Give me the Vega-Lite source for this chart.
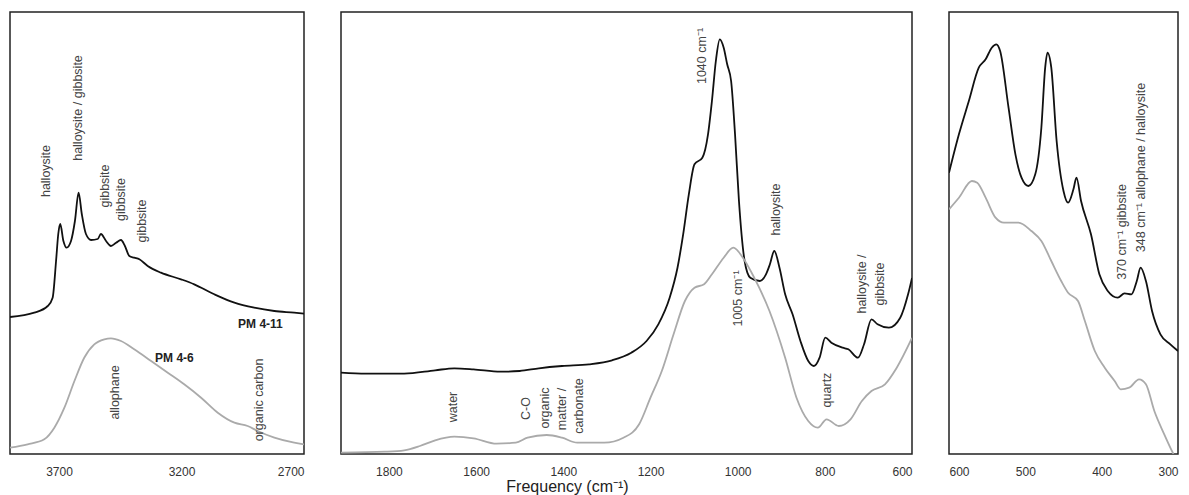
{
  "$schema": "https://vega.github.io/schema/vega-lite/v6.json",
  "padding": {"left": 9, "top": 11, "right": 0, "bottom": 0},
  "background": "white",
  "bounds": "flush",
  "spacing": 37,
  "config": {
    "view": {"stroke": "#222", "strokeWidth": 1.5},
    "font": "Liberation Sans",
    "axis": {"grid": false, "domain": false, "ticks": false, "labelFontSize": 12, "labelColor": "#333", "labelPadding": 12, "labelFont": "Liberation Sans", "format": "d"}
  },
  "datasets": {
    "spec": [
      {"panel": "L", "series": "PM 4-11", "wn": 3900, "v": 137},
      {"panel": "L", "series": "PM 4-11", "wn": 3801, "v": 141.3},
      {"panel": "L", "series": "PM 4-11", "wn": 3746, "v": 148},
      {"panel": "L", "series": "PM 4-11", "wn": 3726, "v": 156.3},
      {"panel": "L", "series": "PM 4-11", "wn": 3712, "v": 193},
      {"panel": "L", "series": "PM 4-11", "wn": 3703, "v": 220},
      {"panel": "L", "series": "PM 4-11", "wn": 3695, "v": 230},
      {"panel": "L", "series": "PM 4-11", "wn": 3682, "v": 213},
      {"panel": "L", "series": "PM 4-11", "wn": 3669, "v": 206.3},
      {"panel": "L", "series": "PM 4-11", "wn": 3651, "v": 213},
      {"panel": "L", "series": "PM 4-11", "wn": 3635, "v": 233},
      {"panel": "L", "series": "PM 4-11", "wn": 3620, "v": 261.3},
      {"panel": "L", "series": "PM 4-11", "wn": 3607, "v": 240},
      {"panel": "L", "series": "PM 4-11", "wn": 3590, "v": 220},
      {"panel": "L", "series": "PM 4-11", "wn": 3569, "v": 214},
      {"panel": "L", "series": "PM 4-11", "wn": 3542, "v": 215},
      {"panel": "L", "series": "PM 4-11", "wn": 3529, "v": 220},
      {"panel": "L", "series": "PM 4-11", "wn": 3508, "v": 213},
      {"panel": "L", "series": "PM 4-11", "wn": 3488, "v": 208},
      {"panel": "L", "series": "PM 4-11", "wn": 3467, "v": 211.3},
      {"panel": "L", "series": "PM 4-11", "wn": 3447, "v": 214},
      {"panel": "L", "series": "PM 4-11", "wn": 3431, "v": 208},
      {"panel": "L", "series": "PM 4-11", "wn": 3413, "v": 198},
      {"panel": "L", "series": "PM 4-11", "wn": 3393, "v": 196.3},
      {"panel": "L", "series": "PM 4-11", "wn": 3372, "v": 194.7},
      {"panel": "L", "series": "PM 4-11", "wn": 3338, "v": 188},
      {"panel": "L", "series": "PM 4-11", "wn": 3284, "v": 181.3},
      {"panel": "L", "series": "PM 4-11", "wn": 3202, "v": 174.7},
      {"panel": "L", "series": "PM 4-11", "wn": 3148, "v": 169.7},
      {"panel": "L", "series": "PM 4-11", "wn": 3066, "v": 159.7},
      {"panel": "L", "series": "PM 4-11", "wn": 2984, "v": 151.3},
      {"panel": "L", "series": "PM 4-11", "wn": 2903, "v": 146.3},
      {"panel": "L", "series": "PM 4-11", "wn": 2821, "v": 143},
      {"panel": "L", "series": "PM 4-11", "wn": 2740, "v": 141.3},
      {"panel": "L", "series": "PM 4-11", "wn": 2700, "v": 140.3},
      {"panel": "L", "series": "PM 4-6", "wn": 3900, "v": 6.3},
      {"panel": "L", "series": "PM 4-6", "wn": 3828, "v": 9.7},
      {"panel": "L", "series": "PM 4-6", "wn": 3760, "v": 14.7},
      {"panel": "L", "series": "PM 4-6", "wn": 3719, "v": 26.3},
      {"panel": "L", "series": "PM 4-6", "wn": 3678, "v": 46.3},
      {"panel": "L", "series": "PM 4-6", "wn": 3637, "v": 73},
      {"panel": "L", "series": "PM 4-6", "wn": 3597, "v": 96.3},
      {"panel": "L", "series": "PM 4-6", "wn": 3556, "v": 109.7},
      {"panel": "L", "series": "PM 4-6", "wn": 3515, "v": 114.7},
      {"panel": "L", "series": "PM 4-6", "wn": 3488, "v": 115.7},
      {"panel": "L", "series": "PM 4-6", "wn": 3447, "v": 113},
      {"panel": "L", "series": "PM 4-6", "wn": 3393, "v": 104.7},
      {"panel": "L", "series": "PM 4-6", "wn": 3324, "v": 93},
      {"panel": "L", "series": "PM 4-6", "wn": 3256, "v": 81.3},
      {"panel": "L", "series": "PM 4-6", "wn": 3189, "v": 69.7},
      {"panel": "L", "series": "PM 4-6", "wn": 3120, "v": 56.3},
      {"panel": "L", "series": "PM 4-6", "wn": 3052, "v": 41.3},
      {"panel": "L", "series": "PM 4-6", "wn": 2984, "v": 31.3},
      {"panel": "L", "series": "PM 4-6", "wn": 2930, "v": 28},
      {"panel": "L", "series": "PM 4-6", "wn": 2889, "v": 23},
      {"panel": "L", "series": "PM 4-6", "wn": 2821, "v": 16.3},
      {"panel": "L", "series": "PM 4-6", "wn": 2740, "v": 11.3},
      {"panel": "L", "series": "PM 4-6", "wn": 2700, "v": 9.7},

      {"panel": "M", "series": "PM 4-11", "wn": 1910, "v": 81.3},
      {"panel": "M", "series": "PM 4-11", "wn": 1853, "v": 80.3},
      {"panel": "M", "series": "PM 4-11", "wn": 1765, "v": 80.3},
      {"panel": "M", "series": "PM 4-11", "wn": 1694, "v": 83.7},
      {"panel": "M", "series": "PM 4-11", "wn": 1650, "v": 85.7},
      {"panel": "M", "series": "PM 4-11", "wn": 1606, "v": 84.7},
      {"panel": "M", "series": "PM 4-11", "wn": 1544, "v": 82.3},
      {"panel": "M", "series": "PM 4-11", "wn": 1500, "v": 83},
      {"panel": "M", "series": "PM 4-11", "wn": 1456, "v": 85.7},
      {"panel": "M", "series": "PM 4-11", "wn": 1403, "v": 88},
      {"panel": "M", "series": "PM 4-11", "wn": 1341, "v": 89.7},
      {"panel": "M", "series": "PM 4-11", "wn": 1288, "v": 93.7},
      {"panel": "M", "series": "PM 4-11", "wn": 1244, "v": 101.3},
      {"panel": "M", "series": "PM 4-11", "wn": 1209, "v": 113},
      {"panel": "M", "series": "PM 4-11", "wn": 1182, "v": 129.7},
      {"panel": "M", "series": "PM 4-11", "wn": 1156, "v": 156.3},
      {"panel": "M", "series": "PM 4-11", "wn": 1138, "v": 186.3},
      {"panel": "M", "series": "PM 4-11", "wn": 1125, "v": 219.7},
      {"panel": "M", "series": "PM 4-11", "wn": 1112, "v": 259.7},
      {"panel": "M", "series": "PM 4-11", "wn": 1099, "v": 289.7},
      {"panel": "M", "series": "PM 4-11", "wn": 1081, "v": 296.3},
      {"panel": "M", "series": "PM 4-11", "wn": 1068, "v": 319.7},
      {"panel": "M", "series": "PM 4-11", "wn": 1059, "v": 353},
      {"panel": "M", "series": "PM 4-11", "wn": 1050, "v": 393},
      {"panel": "M", "series": "PM 4-11", "wn": 1041, "v": 414.7},
      {"panel": "M", "series": "PM 4-11", "wn": 1032, "v": 406.3},
      {"panel": "M", "series": "PM 4-11", "wn": 1024, "v": 389.7},
      {"panel": "M", "series": "PM 4-11", "wn": 1015, "v": 373},
      {"panel": "M", "series": "PM 4-11", "wn": 1006, "v": 319.7},
      {"panel": "M", "series": "PM 4-11", "wn": 997, "v": 253},
      {"panel": "M", "series": "PM 4-11", "wn": 984, "v": 193},
      {"panel": "M", "series": "PM 4-11", "wn": 971, "v": 176.3},
      {"panel": "M", "series": "PM 4-11", "wn": 949, "v": 173},
      {"panel": "M", "series": "PM 4-11", "wn": 935, "v": 179.7},
      {"panel": "M", "series": "PM 4-11", "wn": 926, "v": 189.7},
      {"panel": "M", "series": "PM 4-11", "wn": 916, "v": 203},
      {"panel": "M", "series": "PM 4-11", "wn": 904, "v": 186.3},
      {"panel": "M", "series": "PM 4-11", "wn": 891, "v": 159.7},
      {"panel": "M", "series": "PM 4-11", "wn": 874, "v": 139.7},
      {"panel": "M", "series": "PM 4-11", "wn": 856, "v": 113},
      {"panel": "M", "series": "PM 4-11", "wn": 838, "v": 93},
      {"panel": "M", "series": "PM 4-11", "wn": 825, "v": 88},
      {"panel": "M", "series": "PM 4-11", "wn": 812, "v": 96.3},
      {"panel": "M", "series": "PM 4-11", "wn": 799, "v": 116.3},
      {"panel": "M", "series": "PM 4-11", "wn": 785, "v": 111.3},
      {"panel": "M", "series": "PM 4-11", "wn": 759, "v": 106.3},
      {"panel": "M", "series": "PM 4-11", "wn": 746, "v": 104.7},
      {"panel": "M", "series": "PM 4-11", "wn": 724, "v": 96.3},
      {"panel": "M", "series": "PM 4-11", "wn": 710, "v": 109.7},
      {"panel": "M", "series": "PM 4-11", "wn": 693, "v": 134.7},
      {"panel": "M", "series": "PM 4-11", "wn": 679, "v": 129.7},
      {"panel": "M", "series": "PM 4-11", "wn": 653, "v": 126.3},
      {"panel": "M", "series": "PM 4-11", "wn": 627, "v": 136.3},
      {"panel": "M", "series": "PM 4-11", "wn": 609, "v": 159.7},
      {"panel": "M", "series": "PM 4-11", "wn": 600, "v": 176},
      {"panel": "M", "series": "PM 4-6", "wn": 1910, "v": 1.3},
      {"panel": "M", "series": "PM 4-6", "wn": 1809, "v": 2.3},
      {"panel": "M", "series": "PM 4-6", "wn": 1765, "v": 3.7},
      {"panel": "M", "series": "PM 4-6", "wn": 1729, "v": 8},
      {"panel": "M", "series": "PM 4-6", "wn": 1694, "v": 13.7},
      {"panel": "M", "series": "PM 4-6", "wn": 1650, "v": 17.3},
      {"panel": "M", "series": "PM 4-6", "wn": 1606, "v": 15.7},
      {"panel": "M", "series": "PM 4-6", "wn": 1553, "v": 10.3},
      {"panel": "M", "series": "PM 4-6", "wn": 1509, "v": 11.3},
      {"panel": "M", "series": "PM 4-6", "wn": 1482, "v": 16.3},
      {"panel": "M", "series": "PM 4-6", "wn": 1438, "v": 19},
      {"panel": "M", "series": "PM 4-6", "wn": 1403, "v": 16.3},
      {"panel": "M", "series": "PM 4-6", "wn": 1368, "v": 11.3},
      {"panel": "M", "series": "PM 4-6", "wn": 1306, "v": 11.3},
      {"panel": "M", "series": "PM 4-6", "wn": 1262, "v": 16.3},
      {"panel": "M", "series": "PM 4-6", "wn": 1226, "v": 29.7},
      {"panel": "M", "series": "PM 4-6", "wn": 1200, "v": 56.3},
      {"panel": "M", "series": "PM 4-6", "wn": 1174, "v": 83},
      {"panel": "M", "series": "PM 4-6", "wn": 1147, "v": 119.7},
      {"panel": "M", "series": "PM 4-6", "wn": 1121, "v": 153},
      {"panel": "M", "series": "PM 4-6", "wn": 1099, "v": 166.3},
      {"panel": "M", "series": "PM 4-6", "wn": 1077, "v": 169.7},
      {"panel": "M", "series": "PM 4-6", "wn": 1059, "v": 179.7},
      {"panel": "M", "series": "PM 4-6", "wn": 1032, "v": 196.3},
      {"panel": "M", "series": "PM 4-6", "wn": 1010, "v": 206.3},
      {"panel": "M", "series": "PM 4-6", "wn": 988, "v": 196.3},
      {"panel": "M", "series": "PM 4-6", "wn": 962, "v": 176.3},
      {"panel": "M", "series": "PM 4-6", "wn": 927, "v": 143},
      {"panel": "M", "series": "PM 4-6", "wn": 891, "v": 96.3},
      {"panel": "M", "series": "PM 4-6", "wn": 865, "v": 56.3},
      {"panel": "M", "series": "PM 4-6", "wn": 838, "v": 33},
      {"panel": "M", "series": "PM 4-6", "wn": 816, "v": 26.3},
      {"panel": "M", "series": "PM 4-6", "wn": 796, "v": 34.7},
      {"panel": "M", "series": "PM 4-6", "wn": 768, "v": 28},
      {"panel": "M", "series": "PM 4-6", "wn": 741, "v": 34.7},
      {"panel": "M", "series": "PM 4-6", "wn": 715, "v": 53},
      {"panel": "M", "series": "PM 4-6", "wn": 693, "v": 63},
      {"panel": "M", "series": "PM 4-6", "wn": 662, "v": 69.7},
      {"panel": "M", "series": "PM 4-6", "wn": 635, "v": 86.3},
      {"panel": "M", "series": "PM 4-6", "wn": 600, "v": 116},

      {"panel": "R", "series": "PM 4-11", "wn": 600, "v": 281.3},
      {"panel": "R", "series": "PM 4-11", "wn": 587, "v": 319.7},
      {"panel": "R", "series": "PM 4-11", "wn": 574, "v": 353},
      {"panel": "R", "series": "PM 4-11", "wn": 561, "v": 386.3},
      {"panel": "R", "series": "PM 4-11", "wn": 552, "v": 394.7},
      {"panel": "R", "series": "PM 4-11", "wn": 544, "v": 406.3},
      {"panel": "R", "series": "PM 4-11", "wn": 538, "v": 409.7},
      {"panel": "R", "series": "PM 4-11", "wn": 533, "v": 403},
      {"panel": "R", "series": "PM 4-11", "wn": 522, "v": 346.3},
      {"panel": "R", "series": "PM 4-11", "wn": 513, "v": 299.7},
      {"panel": "R", "series": "PM 4-11", "wn": 505, "v": 276.3},
      {"panel": "R", "series": "PM 4-11", "wn": 496, "v": 268},
      {"panel": "R", "series": "PM 4-11", "wn": 487, "v": 279.7},
      {"panel": "R", "series": "PM 4-11", "wn": 479, "v": 326.3},
      {"panel": "R", "series": "PM 4-11", "wn": 474, "v": 386.3},
      {"panel": "R", "series": "PM 4-11", "wn": 471, "v": 401.3},
      {"panel": "R", "series": "PM 4-11", "wn": 466, "v": 386.3},
      {"panel": "R", "series": "PM 4-11", "wn": 459, "v": 313},
      {"panel": "R", "series": "PM 4-11", "wn": 450, "v": 263},
      {"panel": "R", "series": "PM 4-11", "wn": 444, "v": 251.3},
      {"panel": "R", "series": "PM 4-11", "wn": 437, "v": 264.7},
      {"panel": "R", "series": "PM 4-11", "wn": 433, "v": 276.3},
      {"panel": "R", "series": "PM 4-11", "wn": 427, "v": 253},
      {"panel": "R", "series": "PM 4-11", "wn": 414, "v": 219.7},
      {"panel": "R", "series": "PM 4-11", "wn": 403, "v": 179.7},
      {"panel": "R", "series": "PM 4-11", "wn": 392, "v": 163},
      {"panel": "R", "series": "PM 4-11", "wn": 379, "v": 156.3},
      {"panel": "R", "series": "PM 4-11", "wn": 370, "v": 160.7},
      {"panel": "R", "series": "PM 4-11", "wn": 361, "v": 159.7},
      {"panel": "R", "series": "PM 4-11", "wn": 354, "v": 173},
      {"panel": "R", "series": "PM 4-11", "wn": 349, "v": 186.3},
      {"panel": "R", "series": "PM 4-11", "wn": 342, "v": 173},
      {"panel": "R", "series": "PM 4-11", "wn": 334, "v": 143},
      {"panel": "R", "series": "PM 4-11", "wn": 323, "v": 119.7},
      {"panel": "R", "series": "PM 4-11", "wn": 310, "v": 109.7},
      {"panel": "R", "series": "PM 4-11", "wn": 300, "v": 103},
      {"panel": "R", "series": "PM 4-6", "wn": 600, "v": 244.7},
      {"panel": "R", "series": "PM 4-6", "wn": 587, "v": 256.3},
      {"panel": "R", "series": "PM 4-6", "wn": 570, "v": 273},
      {"panel": "R", "series": "PM 4-6", "wn": 563, "v": 271.3},
      {"panel": "R", "series": "PM 4-6", "wn": 552, "v": 256.3},
      {"panel": "R", "series": "PM 4-6", "wn": 539, "v": 236.3},
      {"panel": "R", "series": "PM 4-6", "wn": 528, "v": 231.3},
      {"panel": "R", "series": "PM 4-6", "wn": 509, "v": 231.3},
      {"panel": "R", "series": "PM 4-6", "wn": 492, "v": 223},
      {"panel": "R", "series": "PM 4-6", "wn": 479, "v": 213},
      {"panel": "R", "series": "PM 4-6", "wn": 466, "v": 193},
      {"panel": "R", "series": "PM 4-6", "wn": 453, "v": 173},
      {"panel": "R", "series": "PM 4-6", "wn": 444, "v": 161.3},
      {"panel": "R", "series": "PM 4-6", "wn": 431, "v": 153},
      {"panel": "R", "series": "PM 4-6", "wn": 422, "v": 133},
      {"panel": "R", "series": "PM 4-6", "wn": 409, "v": 103},
      {"panel": "R", "series": "PM 4-6", "wn": 396, "v": 86.3},
      {"panel": "R", "series": "PM 4-6", "wn": 383, "v": 73},
      {"panel": "R", "series": "PM 4-6", "wn": 375, "v": 64.7},
      {"panel": "R", "series": "PM 4-6", "wn": 364, "v": 66.3},
      {"panel": "R", "series": "PM 4-6", "wn": 351, "v": 74.7},
      {"panel": "R", "series": "PM 4-6", "wn": 342, "v": 69.7},
      {"panel": "R", "series": "PM 4-6", "wn": 331, "v": 43},
      {"panel": "R", "series": "PM 4-6", "wn": 318, "v": 19.7},
      {"panel": "R", "series": "PM 4-6", "wn": 309, "v": 4.7},
      {"panel": "R", "series": "PM 4-6", "wn": 306, "v": 0}
    ],
    "ann": [
      {"panel": "L", "wn": 3753, "v": 283, "label": "halloysite"},
      {"panel": "L", "wn": 3621, "v": 346, "label": "halloysite / gibbsite"},
      {"panel": "L", "wn": 3511, "v": 268, "label": "gibbsite"},
      {"panel": "L", "wn": 3447, "v": 254.5, "label": "gibbsite"},
      {"panel": "L", "wn": 3361, "v": 233, "label": "gibbsite"},
      {"panel": "L", "wn": 3470, "v": 61.5, "label": "allophane"},
      {"panel": "L", "wn": 2885, "v": 54, "label": "organic carbon"},
      {"panel": "M", "wn": 1081, "v": 398, "label": "1040 cm⁻¹"},
      {"panel": "M", "wn": 911, "v": 244.5, "label": "halloysite"},
      {"panel": "M", "wn": 999, "v": 155.5, "label": "1005 cm⁻¹"},
      {"panel": "M", "wn": 715, "v": 170, "label": "halloysite /"},
      {"panel": "M", "wn": 673, "v": 170, "label": "gibbsite"},
      {"panel": "M", "wn": 794, "v": 64, "label": "quartz"},
      {"panel": "M", "wn": 1653, "v": 47, "label": "water"},
      {"panel": "M", "wn": 1485, "v": 45.5, "label": "C-O"},
      {"panel": "M", "wn": 1443, "v": 46, "label": "organic"},
      {"panel": "M", "wn": 1403, "v": 45, "label": "matter /"},
      {"panel": "M", "wn": 1363, "v": 48, "label": "carbonate"},
      {"panel": "R", "wn": 374, "v": 222, "label": "370 cm⁻¹  gibbsite"},
      {"panel": "R", "wn": 349, "v": 286.5, "label": "348 cm⁻¹  allophane / halloysite"}
    ],
    "tags": [
      {"panel": "L", "wn": 2878, "v": 130, "label": "PM 4-11"},
      {"panel": "L", "wn": 3229, "v": 96, "label": "PM 4-6"}
    ]
  },
  "hconcat": [
    {
      "width": 294,
      "height": 442,
      "layer": [
        {
          "data": {"name": "spec"},
          "transform": [{"filter": "datum.panel === 'L'"}],
          "mark": {"type": "line", "strokeWidth": 1.8, "interpolate": "monotone", "clip": true},
          "encoding": {
            "x": {"field": "wn", "type": "quantitative", "scale": {"domain": [2700, 3900], "reverse": true, "nice": false, "zero": false}, "axis": {"values": [3700, 3200, 2700], "title": null}},
            "y": {"field": "v", "type": "quantitative", "scale": {"domain": [0, 442], "nice": false}, "axis": null},
            "color": {"field": "series", "type": "nominal", "scale": {"domain": ["PM 4-11", "PM 4-6"], "range": ["#111111", "#aaaaaa"]}, "legend": null},
            "detail": {"field": "series"}
          }
        },
        {
          "data": {"name": "ann"},
          "transform": [{"filter": "datum.panel === 'L'"}],
          "mark": {"type": "text", "angle": 270, "align": "center", "baseline": "middle", "fontSize": 12.5, "color": "#444"},
          "encoding": {
            "x": {"field": "wn", "type": "quantitative"},
            "y": {"field": "v", "type": "quantitative"},
            "text": {"field": "label"}
          }
        },
        {
          "data": {"name": "tags"},
          "mark": {"type": "text", "align": "center", "baseline": "middle", "fontSize": 12, "fontWeight": "bold", "color": "#222"},
          "encoding": {
            "x": {"field": "wn", "type": "quantitative"},
            "y": {"field": "v", "type": "quantitative"},
            "text": {"field": "label"}
          }
        }
      ]
    },
    {
      "width": 571,
      "height": 442,
      "layer": [
        {
          "data": {"name": "spec"},
          "transform": [{"filter": "datum.panel === 'M'"}],
          "mark": {"type": "line", "strokeWidth": 1.8, "interpolate": "monotone", "clip": true},
          "encoding": {
            "x": {"field": "wn", "type": "quantitative", "scale": {"domain": [600, 1910], "reverse": true, "nice": false, "zero": false},
              "axis": {"values": [1800, 1600, 1400, 1200, 1000, 800, 600], "title": "Frequency (cm⁻¹)", "titleFontSize": 16, "titleFontWeight": "normal", "titleColor": "#222", "titleX": 226, "titleY": 32, "titleBaseline": "middle", "titleAlign": "center"}},
            "y": {"field": "v", "type": "quantitative", "scale": {"domain": [0, 442], "nice": false}, "axis": null},
            "color": {"field": "series", "type": "nominal", "scale": {"domain": ["PM 4-11", "PM 4-6"], "range": ["#111111", "#aaaaaa"]}, "legend": null},
            "detail": {"field": "series"}
          }
        },
        {
          "data": {"name": "ann"},
          "transform": [{"filter": "datum.panel === 'M'"}],
          "mark": {"type": "text", "angle": 270, "align": "center", "baseline": "middle", "fontSize": 12.5, "color": "#444"},
          "encoding": {
            "x": {"field": "wn", "type": "quantitative"},
            "y": {"field": "v", "type": "quantitative"},
            "text": {"field": "label"}
          }
        }
      ]
    },
    {
      "width": 229,
      "height": 442,
      "layer": [
        {
          "data": {"name": "spec"},
          "transform": [{"filter": "datum.panel === 'R'"}],
          "mark": {"type": "line", "strokeWidth": 1.8, "interpolate": "monotone", "clip": true},
          "encoding": {
            "x": {"field": "wn", "type": "quantitative", "scale": {"domain": [300, 600], "reverse": true, "nice": false, "zero": false}, "axis": {"values": [600, 500, 400, 300], "title": null}},
            "y": {"field": "v", "type": "quantitative", "scale": {"domain": [0, 442], "nice": false}, "axis": null},
            "color": {"field": "series", "type": "nominal", "scale": {"domain": ["PM 4-11", "PM 4-6"], "range": ["#111111", "#aaaaaa"]}, "legend": null},
            "detail": {"field": "series"}
          }
        },
        {
          "data": {"name": "ann"},
          "transform": [{"filter": "datum.panel === 'R'"}],
          "mark": {"type": "text", "angle": 270, "align": "center", "baseline": "middle", "fontSize": 12.5, "color": "#444"},
          "encoding": {
            "x": {"field": "wn", "type": "quantitative"},
            "y": {"field": "v", "type": "quantitative"},
            "text": {"field": "label"}
          }
        }
      ]
    }
  ]
}
